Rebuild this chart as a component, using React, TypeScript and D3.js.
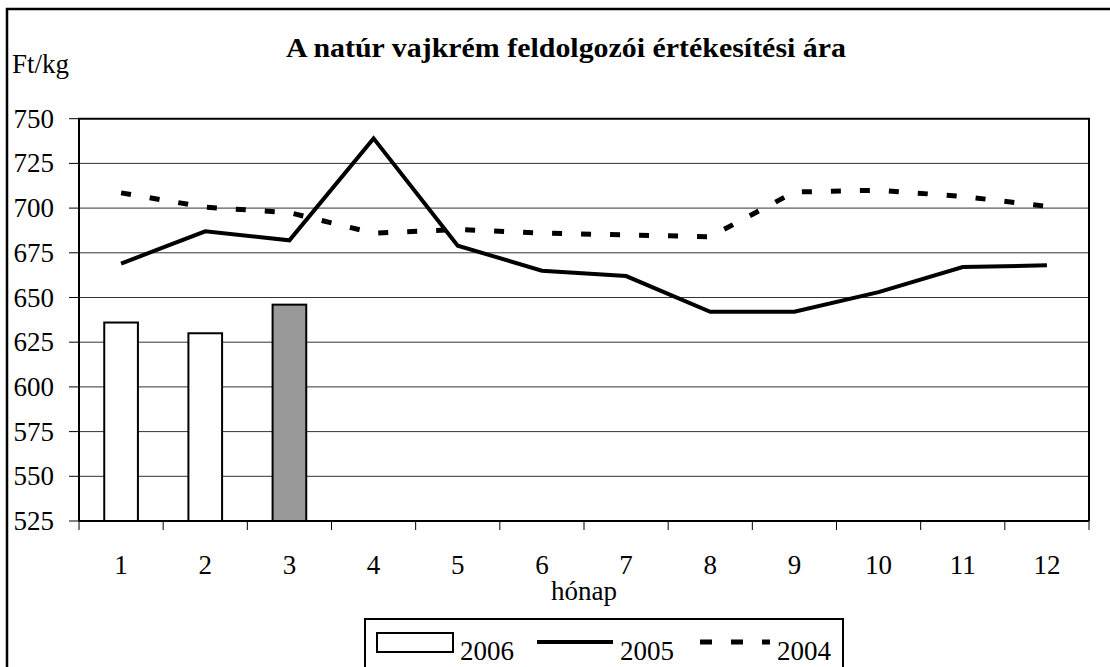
import React from "react";
import * as d3 from "d3";

const months = ["1", "2", "3", "4", "5", "6", "7", "8", "9", "10", "11", "12"];
const values2006 = [636, 630, 646];
const values2005 = [669, 687, 682, 739, 679, 665, 662, 642, 642, 653, 667, 668];
const values2004 = [708.5, 700.5, 697.5, 686, 688, 686, 685, 684, 709, 710, 706.5, 701];
const yTicks = [525, 550, 575, 600, 625, 650, 675, 700, 725, 750];

const FONT = "'Liberation Serif', 'Times New Roman', serif";

export default function App() {
  const W = 1110, H = 667;
  const left = 79, right = 1089, top = 118.7, bottom = 521;
  const x = d3.scaleBand().domain(months).range([left, right]).paddingInner(0).paddingOuter(0);
  const y = d3.scaleLinear().domain([525, 750]).range([bottom, top]);
  const cx = (i: number) => (x(months[i]) as number) + x.bandwidth() / 2;
  const barW = x.bandwidth() * 0.4;
  const line = d3.line<number>().x((_, i) => cx(i)).y((d) => y(d));
  const edges = months.map((m) => x(m) as number).concat([right]);

  return (
    <svg width={W} height={H} style={{ position: "absolute", left: 0, top: 0, background: "#fff", fontFamily: FONT }}>
      <rect x={7} y={9} width={1110} height={700} fill="#fff" stroke="#000" strokeWidth={2.5} />
      <text x={286} y={57} fontWeight="bold" fontSize={27} textLength={560} lengthAdjust="spacingAndGlyphs">A natúr vajkrém feldolgozói értékesítési ára</text>
      <text x={12} y={73} fontSize={27}>Ft/kg</text>
      {yTicks.map((t) => (
        <g key={t}>
          {t > 525 && t < 750 && <line x1={left} x2={right} y1={y(t)} y2={y(t)} stroke="#333" strokeWidth={1} />}
          <line x1={69} x2={left} y1={y(t)} y2={y(t)} stroke="#000" strokeWidth={1} />
          <text x={54} y={y(t) + 9} textAnchor="end" fontSize={27}>{t}</text>
        </g>
      ))}
      {edges.map((e, i) => (
        <line key={i} x1={e} x2={e} y1={bottom} y2={530} stroke="#000" strokeWidth={1} />
      ))}
      {months.map((m, i) => (
        <text key={m} x={cx(i)} y={574} textAnchor="middle" fontSize={27}>{m}</text>
      ))}
      <text x={584} y={600} textAnchor="middle" fontSize={27}>hónap</text>
      {values2006.map((v, i) => (
        <rect key={i} x={cx(i) - barW / 2} y={y(v)} width={barW} height={bottom - y(v)}
          fill={i === 2 ? "#999999" : "#fff"} stroke="#000" strokeWidth={2} />
      ))}
      <path d={line(values2004) || ""} fill="none" stroke="#000" strokeWidth={5} strokeDasharray="10,19" />
      <path d={line(values2005) || ""} fill="none" stroke="#000" strokeWidth={4} strokeLinejoin="miter" />
      <polyline points={`${left},${bottom} ${left},${top} ${right},${top} ${right},${bottom}`} fill="none" stroke="#000" strokeWidth={2} />
      <line x1={left} x2={right} y1={bottom} y2={bottom} stroke="#000" strokeWidth={2} />
      <rect x={365} y={619} width={478} height={70} fill="#fff" stroke="#000" strokeWidth={2} />
      <rect x={377} y={633} width={76} height={19} fill="#fff" stroke="#000" strokeWidth={2} />
      <text x={460} y={660} fontSize={27}>2006</text>
      <line x1={537} x2={613} y1={642} y2={642} stroke="#000" strokeWidth={4} />
      <text x={620} y={660} fontSize={27}>2005</text>
      <line x1={700} x2={770} y1={642} y2={642} stroke="#000" strokeWidth={5} strokeDasharray="12,19" />
      <text x={777} y={660} fontSize={27}>2004</text>
    </svg>
  );
}
